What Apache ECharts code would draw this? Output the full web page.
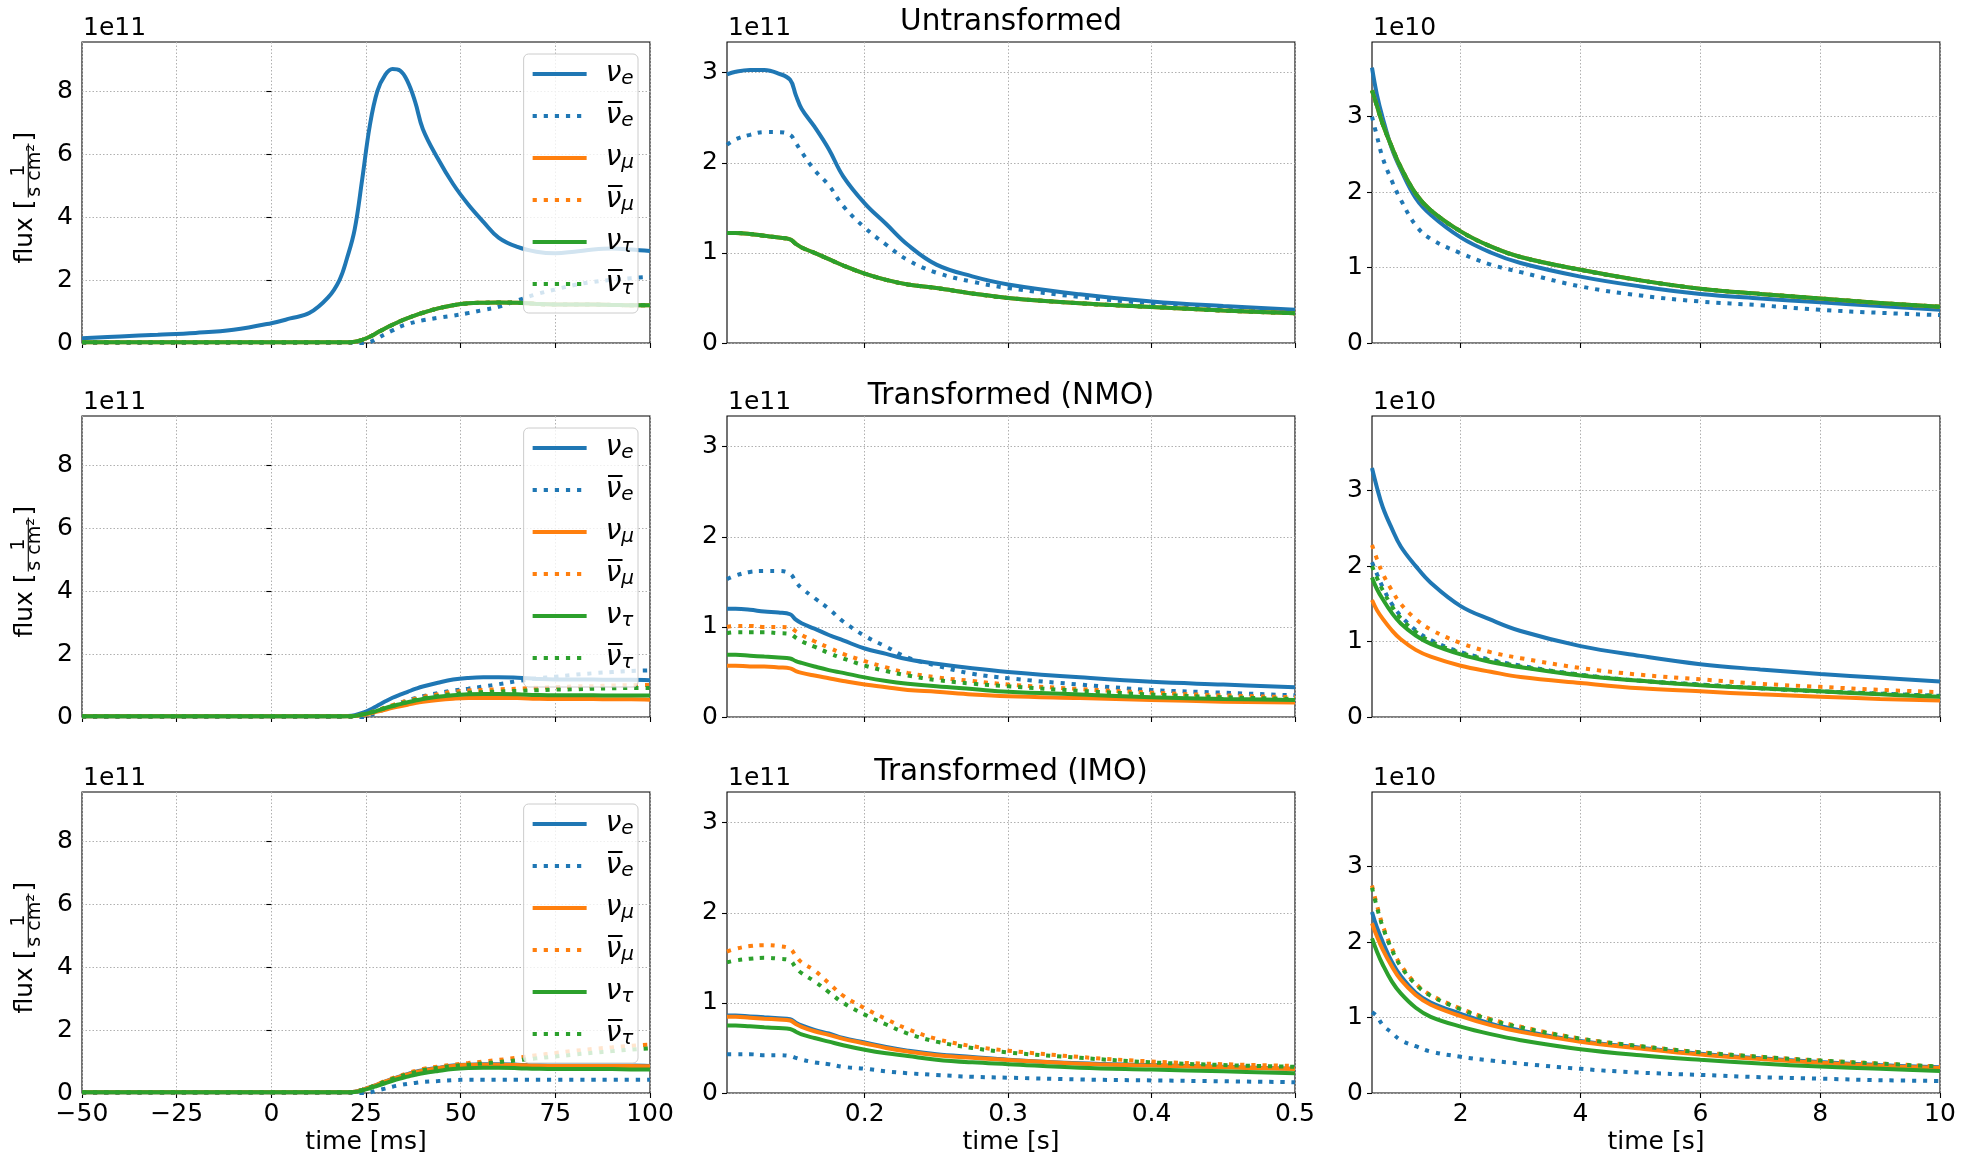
<!DOCTYPE html>
<html>
<head>
<meta charset="utf-8" />
<title>Neutrino flux</title>
<style>
  html, body { margin: 0; padding: 0; background: #fff; }
  #container { width: 1966px; height: 1166px; }
</style>
</head>
<body>
<div id="container"></div>
<script src="https://cdn.jsdelivr.net/npm/echarts@6/dist/echarts.min.js"></script>
<script>
// time grids (ms for the first column, s for the others)
var tEarly = [-50, -40, -30, -20, -10, 0, 5, 10, 15, 18, 20, 22, 24, 26, 28, 30, 32, 34, 36, 38, 40, 44, 48, 52, 56, 60, 65, 70, 75, 80, 85, 90, 95, 100];
var tMid = [0.104, 0.11, 0.12, 0.13, 0.14, 0.148, 0.152, 0.156, 0.165, 0.175, 0.185, 0.2, 0.215, 0.23, 0.25, 0.275, 0.3, 0.35, 0.4, 0.45, 0.5];
var tLate = [0.52, 0.6, 0.7, 0.85, 1.0, 1.25, 1.5, 2, 2.5, 3, 4, 5, 6, 7, 8, 9, 10];

// ---- Untransformed (units 1e11 / 1e11 / 1e10)
var untrEarlyVe = [0.15, 0.21, 0.26, 0.32, 0.42, 0.63, 0.78, 0.95, 1.45, 2.0, 2.7, 3.6, 5.2, 6.9, 8.0, 8.5, 8.7, 8.65, 8.3, 7.65, 6.8, 5.85, 5.05, 4.4, 3.85, 3.35, 3.05, 2.9, 2.85, 2.9, 2.97, 3.0, 2.97, 2.92];
var untrEarlyVeBar = [0, 0, 0, 0, 0, 0, 0, 0, 0, 0, 0, 0, 0, 0.03, 0.15, 0.28, 0.4, 0.52, 0.6, 0.67, 0.72, 0.8, 0.87, 0.95, 1.05, 1.15, 1.35, 1.55, 1.7, 1.84, 1.94, 2.01, 2.06, 2.1];
var untrEarlyVmu = [0.02, 0.02, 0.02, 0.02, 0.02, 0.02, 0.02, 0.02, 0.02, 0.02, 0.02, 0.04, 0.1, 0.2, 0.33, 0.46, 0.58, 0.69, 0.79, 0.88, 0.96, 1.1, 1.2, 1.26, 1.28, 1.29, 1.28, 1.24, 1.22, 1.22, 1.22, 1.21, 1.2, 1.2];
var untrEarlyVmuBar = [0.02, 0.02, 0.02, 0.02, 0.02, 0.02, 0.02, 0.02, 0.02, 0.02, 0.02, 0.04, 0.1, 0.2, 0.33, 0.46, 0.58, 0.69, 0.79, 0.88, 0.96, 1.1, 1.2, 1.26, 1.28, 1.29, 1.28, 1.24, 1.22, 1.22, 1.22, 1.21, 1.2, 1.2];
var untrEarlyVtau = [0.02, 0.02, 0.02, 0.02, 0.02, 0.02, 0.02, 0.02, 0.02, 0.02, 0.02, 0.04, 0.1, 0.2, 0.33, 0.46, 0.58, 0.69, 0.79, 0.88, 0.96, 1.1, 1.2, 1.26, 1.28, 1.29, 1.28, 1.24, 1.22, 1.22, 1.22, 1.21, 1.2, 1.2];
var untrEarlyVtauBar = [0.02, 0.02, 0.02, 0.02, 0.02, 0.02, 0.02, 0.02, 0.02, 0.02, 0.02, 0.04, 0.1, 0.2, 0.33, 0.46, 0.58, 0.69, 0.79, 0.88, 0.96, 1.1, 1.2, 1.26, 1.28, 1.29, 1.28, 1.24, 1.22, 1.22, 1.22, 1.21, 1.2, 1.2];

var untrMidVe = [2.98, 3.01, 3.03, 3.03, 2.99, 2.92, 2.75, 2.6, 2.4, 2.15, 1.85, 1.55, 1.32, 1.09, 0.87, 0.74, 0.65, 0.54, 0.46, 0.41, 0.37];
var untrMidVeBar = [2.2, 2.26, 2.31, 2.34, 2.34, 2.31, 2.22, 2.12, 1.92, 1.75, 1.52, 1.28, 1.09, 0.92, 0.78, 0.68, 0.61, 0.51, 0.44, 0.39, 0.36];
var untrMidVmu = [1.22, 1.22, 1.21, 1.19, 1.17, 1.15, 1.1, 1.06, 1.0, 0.93, 0.86, 0.77, 0.7, 0.65, 0.61, 0.55, 0.5, 0.44, 0.4, 0.36, 0.33];
var untrMidVmuBar = [1.22, 1.22, 1.21, 1.19, 1.17, 1.15, 1.1, 1.06, 1.0, 0.93, 0.86, 0.77, 0.7, 0.65, 0.61, 0.55, 0.5, 0.44, 0.4, 0.36, 0.33];
var untrMidVtau = [1.22, 1.22, 1.21, 1.19, 1.17, 1.15, 1.1, 1.06, 1.0, 0.93, 0.86, 0.77, 0.7, 0.65, 0.61, 0.55, 0.5, 0.44, 0.4, 0.36, 0.33];
var untrMidVtauBar = [1.22, 1.22, 1.21, 1.19, 1.17, 1.15, 1.1, 1.06, 1.0, 0.93, 0.86, 0.77, 0.7, 0.65, 0.61, 0.55, 0.5, 0.44, 0.4, 0.36, 0.33];

var untrLateVe = [3.65, 3.3, 2.98, 2.58, 2.3, 1.92, 1.7, 1.4, 1.2, 1.06, 0.88, 0.75, 0.65, 0.59, 0.54, 0.49, 0.44];
var untrLateVeBar = [3.0, 2.75, 2.45, 2.15, 1.9, 1.56, 1.38, 1.19, 1.04, 0.94, 0.75, 0.63, 0.55, 0.5, 0.44, 0.4, 0.37];
var untrLateVmu = [3.35, 3.15, 2.9, 2.6, 2.33, 1.98, 1.76, 1.48, 1.28, 1.14, 0.97, 0.83, 0.72, 0.65, 0.59, 0.53, 0.48];
var untrLateVmuBar = [3.35, 3.15, 2.9, 2.6, 2.33, 1.98, 1.76, 1.48, 1.28, 1.14, 0.97, 0.83, 0.72, 0.65, 0.59, 0.53, 0.48];
var untrLateVtau = [3.35, 3.15, 2.9, 2.6, 2.33, 1.98, 1.76, 1.48, 1.28, 1.14, 0.97, 0.83, 0.72, 0.65, 0.59, 0.53, 0.48];
var untrLateVtauBar = [3.35, 3.15, 2.9, 2.6, 2.33, 1.98, 1.76, 1.48, 1.28, 1.14, 0.97, 0.83, 0.72, 0.65, 0.59, 0.53, 0.48];

// ---- Transformed (NMO)
var nmoEarlyVe = [0.02, 0.02, 0.02, 0.02, 0.02, 0.02, 0.02, 0.02, 0.02, 0.02, 0.03, 0.06, 0.13, 0.23, 0.36, 0.49, 0.61, 0.71, 0.8, 0.89, 0.97, 1.09, 1.19, 1.24, 1.26, 1.26, 1.25, 1.21, 1.19, 1.19, 1.19, 1.18, 1.18, 1.17];
var nmoEarlyVeBar = [0, 0, 0, 0, 0, 0, 0, 0, 0, 0, 0, 0, 0, 0.06, 0.15, 0.25, 0.35, 0.45, 0.53, 0.6, 0.66, 0.76, 0.84, 0.9, 0.97, 1.04, 1.14, 1.22, 1.28, 1.34, 1.39, 1.43, 1.46, 1.48];
var nmoEarlyVmu = [0.02, 0.02, 0.02, 0.02, 0.02, 0.02, 0.02, 0.02, 0.02, 0.02, 0.02, 0.03, 0.06, 0.11, 0.17, 0.23, 0.29, 0.34, 0.39, 0.44, 0.48, 0.54, 0.58, 0.6, 0.6, 0.6, 0.6, 0.58, 0.57, 0.57, 0.57, 0.56, 0.56, 0.55];
var nmoEarlyVmuBar = [0.02, 0.02, 0.02, 0.02, 0.02, 0.02, 0.02, 0.02, 0.02, 0.02, 0.02, 0.03, 0.08, 0.14, 0.22, 0.3, 0.38, 0.45, 0.52, 0.58, 0.64, 0.72, 0.8, 0.84, 0.86, 0.88, 0.9, 0.93, 0.95, 0.97, 0.98, 1.0, 1.01, 1.02];
var nmoEarlyVtau = [0.02, 0.02, 0.02, 0.02, 0.02, 0.02, 0.02, 0.02, 0.02, 0.02, 0.02, 0.03, 0.08, 0.13, 0.2, 0.28, 0.35, 0.41, 0.47, 0.52, 0.57, 0.64, 0.69, 0.72, 0.73, 0.73, 0.72, 0.7, 0.69, 0.69, 0.69, 0.68, 0.68, 0.68];
var nmoEarlyVtauBar = [0.02, 0.02, 0.02, 0.02, 0.02, 0.02, 0.02, 0.02, 0.02, 0.02, 0.02, 0.03, 0.08, 0.14, 0.21, 0.28, 0.35, 0.42, 0.48, 0.54, 0.59, 0.67, 0.73, 0.77, 0.79, 0.81, 0.83, 0.85, 0.87, 0.88, 0.9, 0.91, 0.92, 0.92];

var nmoMidVe = [1.2, 1.2, 1.19, 1.17, 1.16, 1.14, 1.08, 1.04, 0.98, 0.91, 0.85, 0.76, 0.7, 0.64, 0.59, 0.54, 0.5, 0.44, 0.39, 0.36, 0.33];
var nmoMidVeBar = [1.53, 1.57, 1.61, 1.62, 1.62, 1.59, 1.5, 1.43, 1.32, 1.2, 1.06, 0.9, 0.78, 0.66, 0.57, 0.48, 0.43, 0.36, 0.3, 0.27, 0.24];
var nmoMidVmu = [0.57, 0.57, 0.56, 0.56, 0.55, 0.54, 0.51, 0.49, 0.46, 0.43, 0.4, 0.36, 0.33, 0.3, 0.28, 0.25, 0.23, 0.21, 0.19, 0.17, 0.16];
var nmoMidVmuBar = [1.0, 1.01, 1.01, 1.0, 1.0, 0.99, 0.95, 0.91, 0.84, 0.77, 0.7, 0.62, 0.55, 0.49, 0.44, 0.4, 0.36, 0.31, 0.27, 0.24, 0.22];
var nmoMidVtau = [0.69, 0.69, 0.68, 0.67, 0.66, 0.65, 0.62, 0.6, 0.56, 0.52, 0.49, 0.44, 0.4, 0.37, 0.34, 0.31, 0.28, 0.25, 0.22, 0.2, 0.19];
var nmoMidVtauBar = [0.93, 0.94, 0.94, 0.94, 0.93, 0.92, 0.88, 0.84, 0.78, 0.71, 0.65, 0.57, 0.51, 0.46, 0.41, 0.37, 0.34, 0.29, 0.25, 0.22, 0.2];

var nmoLateVe = [3.3, 3.05, 2.78, 2.5, 2.26, 2.0, 1.78, 1.47, 1.29, 1.14, 0.94, 0.81, 0.7, 0.63, 0.57, 0.52, 0.47];
var nmoLateVeBar = [2.05, 1.9, 1.72, 1.5, 1.34, 1.15, 1.02, 0.86, 0.76, 0.68, 0.56, 0.48, 0.43, 0.38, 0.34, 0.31, 0.28];
var nmoLateVmu = [1.55, 1.42, 1.3, 1.15, 1.03, 0.89, 0.8, 0.68, 0.6, 0.53, 0.45, 0.38, 0.34, 0.3, 0.27, 0.24, 0.22];
var nmoLateVmuBar = [2.28, 2.1, 1.9, 1.68, 1.5, 1.3, 1.16, 0.98, 0.86, 0.78, 0.65, 0.56, 0.5, 0.44, 0.4, 0.36, 0.33];
var nmoLateVtau = [1.85, 1.7, 1.56, 1.38, 1.24, 1.08, 0.97, 0.83, 0.73, 0.66, 0.55, 0.48, 0.42, 0.38, 0.34, 0.3, 0.27];
var nmoLateVtauBar = [2.0, 1.85, 1.68, 1.47, 1.31, 1.13, 1.0, 0.85, 0.75, 0.67, 0.56, 0.48, 0.43, 0.38, 0.34, 0.31, 0.28];

// ---- Transformed (IMO)
var imoEarlyVe = [0.02, 0.02, 0.02, 0.02, 0.02, 0.02, 0.02, 0.02, 0.02, 0.02, 0.02, 0.04, 0.1, 0.18, 0.27, 0.36, 0.45, 0.53, 0.6, 0.67, 0.72, 0.8, 0.87, 0.9, 0.91, 0.91, 0.9, 0.88, 0.87, 0.87, 0.87, 0.87, 0.87, 0.86];
var imoEarlyVeBar = [0, 0, 0, 0, 0, 0, 0, 0, 0, 0, 0, 0, 0, 0.02, 0.08, 0.14, 0.2, 0.25, 0.29, 0.32, 0.35, 0.38, 0.41, 0.42, 0.42, 0.42, 0.42, 0.42, 0.42, 0.42, 0.42, 0.42, 0.42, 0.42];
var imoEarlyVmu = [0.02, 0.02, 0.02, 0.02, 0.02, 0.02, 0.02, 0.02, 0.02, 0.02, 0.02, 0.04, 0.1, 0.18, 0.27, 0.36, 0.44, 0.52, 0.59, 0.66, 0.71, 0.79, 0.86, 0.89, 0.9, 0.9, 0.89, 0.87, 0.86, 0.86, 0.86, 0.86, 0.86, 0.85];
var imoEarlyVmuBar = [0.02, 0.02, 0.02, 0.02, 0.02, 0.02, 0.02, 0.02, 0.02, 0.02, 0.02, 0.04, 0.1, 0.18, 0.28, 0.38, 0.47, 0.55, 0.63, 0.7, 0.76, 0.84, 0.9, 0.95, 1.0, 1.05, 1.12, 1.2, 1.27, 1.34, 1.4, 1.45, 1.5, 1.54];
var imoEarlyVtau = [0.02, 0.02, 0.02, 0.02, 0.02, 0.02, 0.02, 0.02, 0.02, 0.02, 0.02, 0.03, 0.08, 0.15, 0.23, 0.31, 0.39, 0.46, 0.52, 0.58, 0.63, 0.7, 0.76, 0.79, 0.8, 0.8, 0.79, 0.77, 0.76, 0.76, 0.76, 0.76, 0.75, 0.75];
var imoEarlyVtauBar = [0.02, 0.02, 0.02, 0.02, 0.02, 0.02, 0.02, 0.02, 0.02, 0.02, 0.02, 0.04, 0.1, 0.18, 0.27, 0.36, 0.45, 0.53, 0.6, 0.66, 0.72, 0.8, 0.86, 0.9, 0.94, 0.98, 1.04, 1.1, 1.16, 1.22, 1.28, 1.33, 1.38, 1.42];

var imoMidVe = [0.86, 0.86, 0.85, 0.84, 0.83, 0.82, 0.78, 0.75, 0.7, 0.66, 0.61, 0.56, 0.51, 0.47, 0.43, 0.4, 0.37, 0.33, 0.31, 0.29, 0.27];
var imoMidVeBar = [0.43, 0.43, 0.43, 0.42, 0.42, 0.41, 0.39, 0.37, 0.34, 0.32, 0.29, 0.27, 0.24, 0.22, 0.2, 0.18, 0.17, 0.15, 0.14, 0.13, 0.12];
var imoMidVmu = [0.845, 0.845, 0.835, 0.825, 0.815, 0.805, 0.765, 0.735, 0.685, 0.645, 0.6, 0.55, 0.5, 0.46, 0.42, 0.39, 0.365, 0.325, 0.305, 0.285, 0.265];
var imoMidVmuBar = [1.57, 1.6, 1.63, 1.64, 1.63, 1.6, 1.52, 1.45, 1.36, 1.22, 1.08, 0.94, 0.82, 0.71, 0.6, 0.52, 0.47, 0.4, 0.35, 0.32, 0.3];
var imoMidVtau = [0.75, 0.75, 0.74, 0.73, 0.72, 0.71, 0.68, 0.65, 0.61, 0.57, 0.53, 0.48, 0.44, 0.41, 0.37, 0.34, 0.32, 0.28, 0.26, 0.24, 0.22];
var imoMidVtauBar = [1.45, 1.47, 1.49, 1.5, 1.49, 1.47, 1.39, 1.33, 1.24, 1.12, 1.0, 0.87, 0.76, 0.66, 0.57, 0.5, 0.45, 0.39, 0.34, 0.31, 0.29];

var imoLateVe = [2.4, 2.2, 2.0, 1.74, 1.55, 1.33, 1.2, 1.05, 0.92, 0.83, 0.69, 0.6, 0.52, 0.46, 0.41, 0.37, 0.34];
var imoLateVeBar = [1.07, 1.02, 0.9, 0.8, 0.7, 0.62, 0.55, 0.48, 0.43, 0.39, 0.32, 0.27, 0.24, 0.21, 0.19, 0.17, 0.16];
var imoLateVmu = [2.25, 2.08, 1.9, 1.68, 1.5, 1.3, 1.17, 1.02, 0.9, 0.81, 0.68, 0.59, 0.51, 0.45, 0.4, 0.36, 0.33];
var imoLateVmuBar = [2.75, 2.5, 2.22, 1.92, 1.7, 1.45, 1.3, 1.12, 0.98, 0.88, 0.72, 0.62, 0.54, 0.48, 0.43, 0.39, 0.35];
var imoLateVtau = [2.05, 1.88, 1.7, 1.48, 1.32, 1.13, 1.01, 0.88, 0.78, 0.7, 0.58, 0.5, 0.44, 0.39, 0.35, 0.32, 0.29];
var imoLateVtauBar = [2.72, 2.47, 2.2, 1.9, 1.68, 1.44, 1.29, 1.11, 0.97, 0.87, 0.72, 0.62, 0.54, 0.48, 0.43, 0.39, 0.35];

// ticks / labels
var rowTitles = ['Untransformed', 'Transformed (NMO)', 'Transformed (IMO)'];
var colXTicks = [[-50, -25, 0, 25, 50, 75, 100], [0.2, 0.3, 0.4, 0.5], [2, 4, 6, 8, 10]];
var colYTicks = [[0, 2, 4, 6, 8], [0, 1, 2, 3], [0, 1, 2, 3]];
var colOffsetText = ['1e11', '1e11', '1e10'];
var colXName = ['time [ms]', 'time [s]', 'time [s]'];
var flavours = ['ve', 'vebar', 'vmu', 'vmubar', 'vtau', 'vtaubar'];

// ---- layout / style
var FONT = 'DejaVu Sans';
var FS = 25;
var colLeft = [82, 727, 1372];
var rowTop = [42, 416, 792];
var gridW = 568, gridH = 301;
var colX = [tEarly, tMid, tLate];
var colXMin = [-50, 0.104, 0.52], colXMax = [100, 0.5, 10];
var colYMax = [9.56, 3.34, 3.99];
var colors = ['#1f77b4', '#1f77b4', '#ff7f0e', '#ff7f0e', '#2ca02c', '#2ca02c'];
var dotted = [false, true, false, true, false, true];

var panels = [
  [[untrEarlyVe, untrEarlyVeBar, untrEarlyVmu, untrEarlyVmuBar, untrEarlyVtau, untrEarlyVtauBar],
   [untrMidVe, untrMidVeBar, untrMidVmu, untrMidVmuBar, untrMidVtau, untrMidVtauBar],
   [untrLateVe, untrLateVeBar, untrLateVmu, untrLateVmuBar, untrLateVtau, untrLateVtauBar]],
  [[nmoEarlyVe, nmoEarlyVeBar, nmoEarlyVmu, nmoEarlyVmuBar, nmoEarlyVtau, nmoEarlyVtauBar],
   [nmoMidVe, nmoMidVeBar, nmoMidVmu, nmoMidVmuBar, nmoMidVtau, nmoMidVtauBar],
   [nmoLateVe, nmoLateVeBar, nmoLateVmu, nmoLateVmuBar, nmoLateVtau, nmoLateVtauBar]],
  [[imoEarlyVe, imoEarlyVeBar, imoEarlyVmu, imoEarlyVmuBar, imoEarlyVtau, imoEarlyVtauBar],
   [imoMidVe, imoMidVeBar, imoMidVmu, imoMidVmuBar, imoMidVtau, imoMidVtauBar],
   [imoLateVe, imoLateVeBar, imoLateVmu, imoLateVmuBar, imoLateVtau, imoLateVtauBar]]
];

var legendLabels = {
  ve: '{n|ν}{s|e}',
  vebar: '{n|ν\u0305}{s|e}',
  vmu: '{n|ν}{s|μ}',
  vmubar: '{n|ν\u0305}{s|μ}',
  vtau: '{n|ν}{s|τ}',
  vtaubar: '{n|ν\u0305}{s|τ}'
};

var gridLine = { color: '#b0b0b0', width: 1, type: [1.5, 2] };
var tickStyle = { color: '#000', width: 1.1 };

var grids = [], xAxes = [], yAxes = [], series = [], legends = [], graphics = [];

for (var r = 0; r < 3; r++) {
  for (var c = 0; c < 3; c++) {
    var idx = r * 3 + c;
    var bottom = r === 2;
    grids.push({
      left: colLeft[c], top: rowTop[r], width: gridW, height: gridH,
      show: true, borderColor: '#000', borderWidth: 1.1, backgroundColor: 'transparent'
    });
    xAxes.push({
      type: 'value', gridIndex: idx, min: colXMin[c], max: colXMax[c],
      name: bottom ? colXName[c] : '', nameLocation: 'middle', nameGap: 37,
      nameTextStyle: { fontFamily: FONT, fontSize: FS, color: '#000' },
      axisLine: { show: false },
      axisTick: { show: true, length: 5, customValues: colXTicks[c], lineStyle: tickStyle },
      axisLabel: {
        show: bottom, customValues: colXTicks[c], margin: 9,
        fontFamily: FONT, fontSize: FS, color: '#000',
        formatter: function (v) { return String(v).replace('-', '\u2212'); }
      },
      splitLine: { show: true, lineStyle: gridLine }
    });
    yAxes.push({
      type: 'value', gridIndex: idx, min: 0, max: colYMax[c],
      axisLine: { show: false },
      axisTick: { show: true, length: 5, customValues: colYTicks[c], lineStyle: tickStyle },
      axisLabel: { customValues: colYTicks[c], margin: 9, fontFamily: FONT, fontSize: FS, color: '#000' },
      splitLine: { show: true, lineStyle: gridLine }
    });
    var xs = colX[c];
    panels[r][c].forEach(function (ys, k) {
      series.push({
        name: flavours[k],
        type: 'line',
        xAxisIndex: idx, yAxisIndex: idx,
        data: xs.map(function (x, i) { return [x, ys[i]]; }),
        showSymbol: false, symbol: 'none',
        smooth: 0.4,
        color: colors[k],
        lineStyle: { color: colors[k], width: 4, type: dotted[k] ? [4.2, 6.9] : 'solid', cap: 'butt' },
        emphasis: { disabled: true },
        silent: true
      });
    });

    // exponent (offset) text above each panel
    graphics.push({
      type: 'text', x: colLeft[c] + 1, y: rowTop[r] - 1,
      style: { text: colOffsetText[c], fontFamily: FONT, fontSize: FS, fill: '#000', align: 'left', verticalAlign: 'bottom' }
    });
  }

  // legend inside the left panel of each row
  legends.push({
    data: flavours,
    orient: 'vertical',
    right: 1966 - 638,
    top: rowTop[r] + 12,
    itemWidth: 54, itemHeight: 14, itemGap: 13,
    padding: [6, 4, 14, 7],
    backgroundColor: 'rgba(255,255,255,0.8)',
    borderColor: '#cccccc', borderWidth: 1, borderRadius: 5,
    selectedMode: false,
    itemStyle: { opacity: 0 },
    lineStyle: { width: 4, cap: 'butt' },
    formatter: function (n) { return legendLabels[n]; },
    textStyle: {
      color: '#000',
      rich: {
        n: { fontFamily: FONT, fontStyle: 'italic', fontSize: 28, lineHeight: 30, padding: [0, 0, 0, 14], color: '#000' },
        s: { fontFamily: FONT, fontStyle: 'italic', fontSize: 20, lineHeight: 20, verticalAlign: 'bottom', color: '#000' }
      }
    }
  });

  // row title
  graphics.push({
    type: 'text', x: colLeft[1] + gridW / 2, y: rowTop[r] - 20,
    style: { text: rowTitles[r], fontFamily: FONT, fontSize: 29.5, fill: '#000', align: 'center', verticalAlign: 'middle' }
  });

  // y label: flux [1 / (s cm^2)]  (local y = screen x after rotation)
  graphics.push({
    type: 'group', x: 0, y: rowTop[r] + gridH / 2 + 5, rotation: Math.PI / 2,
    children: [
      { type: 'text', x: -66, y: 25, style: { text: 'flux [', fontFamily: FONT, fontSize: FS, fill: '#000', align: 'left', verticalAlign: 'middle' } },
      { type: 'text', x: 27, y: 19, style: { text: '1', fontFamily: FONT, fontSize: 19, fill: '#000', align: 'center', verticalAlign: 'middle' } },
      { type: 'line', shape: { x1: 0, y1: 28.3, x2: 54, y2: 28.3 }, style: { stroke: '#000', lineWidth: 1.1 } },
      { type: 'text', x: 27, y: 35.5, style: { text: 's cm²', fontFamily: FONT, fontSize: 19, fill: '#000', align: 'center', verticalAlign: 'middle' } },
      { type: 'text', x: 56, y: 25, style: { text: ']', fontFamily: FONT, fontSize: FS, fill: '#000', align: 'left', verticalAlign: 'middle' } }
    ]
  });
}

var dom = document.getElementById('container');
var myChart = echarts.init(dom, null, { renderer: 'canvas' });
var option = {
  animation: false,
  backgroundColor: '#fff',
  textStyle: { fontFamily: FONT },
  grid: grids,
  xAxis: xAxes,
  yAxis: yAxes,
  legend: legends,
  graphic: graphics,
  series: series
};
myChart.setOption(option);
</script>
</body>
</html>
